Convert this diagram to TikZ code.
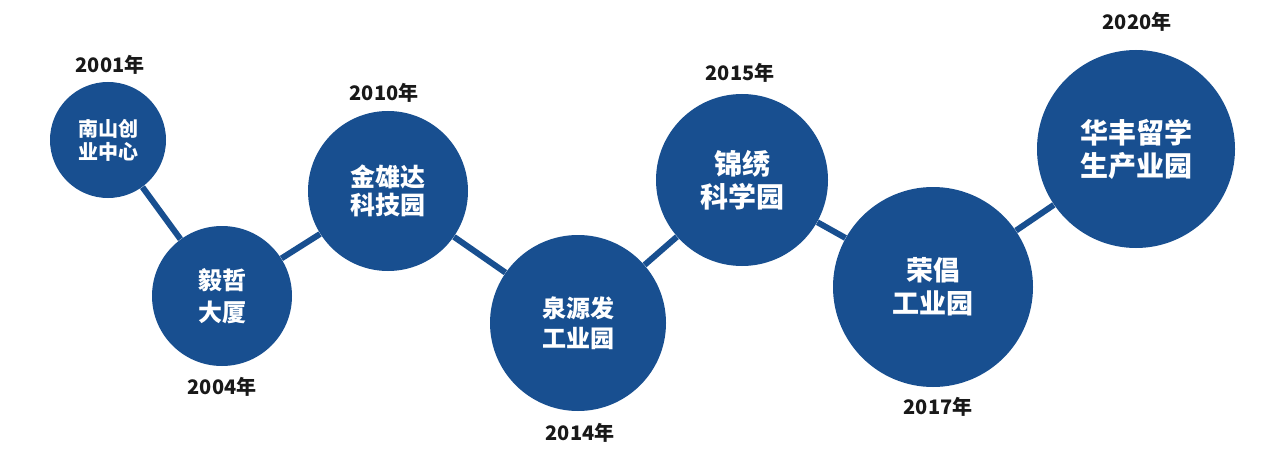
\documentclass[tikz,border=0pt]{standalone}
\usepackage{fontspec}
\setmainfont{Noto Sans CJK SC}
\definecolor{parkblue}{RGB}{24,79,144}
\tikzset{
  park/.style={circle, fill=parkblue, text=white, font=\bfseries, align=center, inner sep=0pt},
  year/.style={font=\bfseries\fontsize{10}{12}\selectfont, text=black!90},
  link/.style={parkblue, line width=3pt}
}
\begin{document}
\begin{tikzpicture}[x=0.5pt, y=-0.5pt]
        \useasboundingbox (0,0) rectangle (1280,465);
        % Parks
        \node [park, minimum size=58pt, font=\bfseries\fontsize{10}{11.5}\selectfont] (nanshan) at (108,140) {南山创\\业中心};
        \node [park, minimum size=70pt, font=\bfseries\fontsize{12}{16}\selectfont] (yizhe) at (222,296) {毅哲\\大厦};
        \node [park, minimum size=80pt, font=\bfseries\fontsize{12.5}{14}\selectfont] (jinxiongda) at (388,191) {金雄达\\科技园};
        \node [park, minimum size=88pt, font=\bfseries\fontsize{12}{15}\selectfont] (quanyuanfa) at (578,323) {泉源发\\工业园};
        \node [park, minimum size=86pt, font=\bfseries\fontsize{14}{16.5}\selectfont] (jinxiu) at (742,180) {锦绣\\科学园};
        \node [park, minimum size=100pt, font=\bfseries\fontsize{13.5}{16.5}\selectfont] (rongchang) at (933,287) {荣倡\\工业园};
        \node [park, minimum size=99pt, font=\bfseries\fontsize{14}{16.5}\selectfont] (huafeng) at (1136,149) {华丰留学\\生产业园};
        % Links
        \draw [link] (nanshan) -- (yizhe);
        \draw [link] (yizhe) -- (jinxiongda);
        \draw [link] (jinxiongda) -- (quanyuanfa);
        \draw [link] (quanyuanfa) -- (jinxiu);
        \draw [link] (jinxiu) -- (rongchang);
        \draw [link] (rongchang) -- (huafeng);
        % Years
        \node [year] (y2001) at (110,65) {2001年};
        \node [year] (y2004) at (222,387) {2004年};
        \node [year] (y2010) at (384,93) {2010年};
        \node [year] (y2014) at (580,433) {2014年};
        \node [year] (y2015) at (740,73) {2015年};
        \node [year] (y2017) at (938,407) {2017年};
        \node [year] (y2020) at (1137,22) {2020年};
\end{tikzpicture}
\end{document}
